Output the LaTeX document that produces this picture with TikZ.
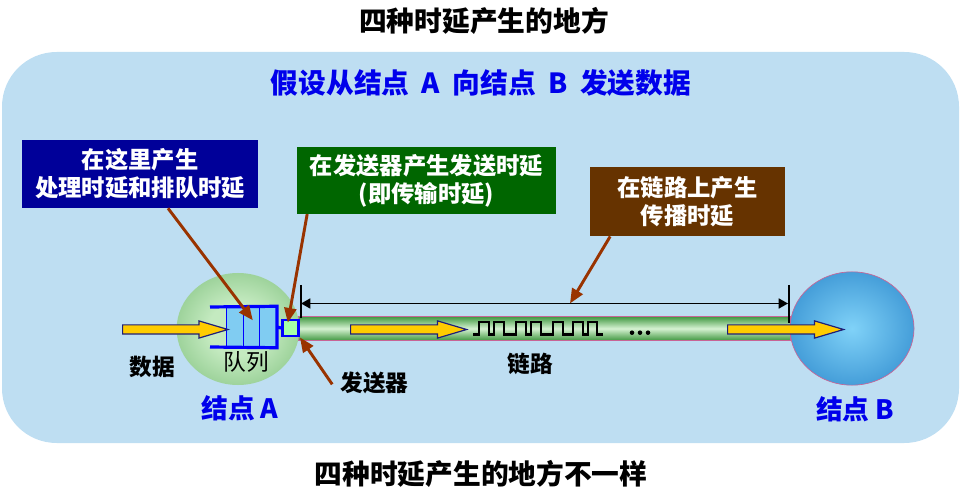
\documentclass[tikz,border=0pt]{standalone}
\usepackage{fontspec}
\setmainfont{Noto Sans CJK SC}
\usetikzlibrary{arrows.meta,positioning,shapes.geometric,shapes.arrows}

\definecolor{bgblue}{RGB}{190,222,242}
\definecolor{procblue}{RGB}{0,0,153}
\definecolor{sendgreen}{RGB}{0,102,0}
\definecolor{propbrown}{RGB}{102,51,0}
\definecolor{ptrbrown}{RGB}{153,51,0}
\definecolor{titleblue}{RGB}{0,0,235}
\definecolor{qblue}{RGB}{0,0,255}
\definecolor{qfill}{RGB}{128,204,242}
\definecolor{txfill}{RGB}{166,255,166}
\definecolor{arrowyellow}{RGB}{255,204,0}
\definecolor{arrowedge}{RGB}{31,31,120}
\definecolor{tubedark}{RGB}{70,155,70}
\definecolor{tubelight}{RGB}{214,242,210}
\definecolor{tubeedge}{RGB}{200,100,150}
\definecolor{nodeAin}{RGB}{196,234,192}
\definecolor{nodeAout}{RGB}{84,166,84}
\definecolor{nodeBin}{RGB}{128,210,248}
\definecolor{nodeBout}{RGB}{10,106,186}

\pgfdeclareradialshading{nodeAshade}{\pgfpoint{0bp}{0bp}}{color(0bp)=(nodeAin); color(12bp)=(nodeAin); color(50bp)=(nodeAout)}
\pgfdeclareradialshading{nodeBshade}{\pgfpoint{0bp}{0bp}}{color(0bp)=(nodeBin); color(50bp)=(nodeBout)}

\newcommand{\bigfont}{\bfseries\fontsize{20.8pt}{24pt}\selectfont}
\newcommand{\boxfont}{\bfseries\fontsize{17.5pt}{21pt}\selectfont}
\newcommand{\lblfont}{\bfseries\fontsize{17pt}{20pt}\selectfont}

\begin{document}
\begin{tikzpicture}[
x=0.75pt, y=-0.75pt,
box/.style={rectangle, inner sep=0pt, align=center, text=white, font=\boxfont},
ptr/.style={-{Triangle[length=11pt,width=9pt]}, line width=2.2pt, draw=ptrbrown},
yarrow/.style={single arrow, draw=arrowedge, fill=arrowyellow, line width=0.9pt, minimum width=12pt,
  single arrow head extend=3pt, single arrow tip angle=33, single arrow head indent=0pt,
  inner xsep=0pt, inner ysep=3pt, anchor=tail},
qcell/.style={rectangle, draw=qblue, fill=qfill, line width=1.1pt, minimum width=12.4pt, minimum height=30pt, inner sep=0pt},
qline/.style={draw=qblue, line width=2.4pt},
lbl/.style={inner sep=1pt, font=\lblfont},
nodelbl/.style={inner sep=1pt, text=titleblue, font=\bfseries\fontsize{20pt}{24pt}\selectfont},
dimline/.style={{Triangle[length=7pt,width=7.5pt]}-{Triangle[length=7pt,width=7.5pt]}, line width=1.2pt},
tick/.style={line width=1.6pt},
wave/.style={line width=2pt, line join=miter}
]
\useasboundingbox (0,0) rectangle (962,498);

% background panel
\fill[bgblue, rounded corners=41pt] (2,52) rectangle (959,443);

\node[font=\bigfont] (title) at (484,21) {四种时延产生的地方};
\node[font=\bigfont, text=titleblue] (sub) at (481,83) {假设从结点\hspace{.45em}A\hspace{.45em}向结点\hspace{.45em}B\hspace{.45em}发送数据};
\node[font=\bigfont] (bottom) at (481,474) {四种时延产生的地方不一样};

% link
\node[rectangle, draw=tubeedge, line width=0.7pt, top color=tubedark, bottom color=tubedark, middle color=tubelight,
  minimum width=369pt, minimum height=17.3pt, inner sep=0pt] (link) at (544,328.5) {};

% the two nodes
\node[ellipse, shading=nodeAshade, minimum width=92pt, minimum height=84pt, inner sep=0pt] (nodeA) at (238,329) {};
\node[ellipse, shading=nodeBshade, draw=tubeedge, line width=0.5pt, minimum width=93pt, minimum height=85pt, inner sep=0pt] (nodeB) at (852,328.5) {};

% queue and transmitter
\node[qcell] (q1) at (235,327) {};
\node[qcell] (q2) at (251.5,327) {};
\node[qcell] (q3) at (268,327) {};
\coordinate (qtl) at (210,307);
\coordinate (qbl) at (210,347);
\draw[qline] (qtl) -- (q3.north east) -- (q3.south east) -- (qbl);
\node[rectangle, draw=qblue, fill=txfill, line width=2.2pt, minimum size=12pt, inner sep=0pt] (tx) at (290.5,328) {};
\draw[qline] (q3.east) -- (tx.west);

% yellow arrows
\node[yarrow, minimum height=79pt] (dataarrow) at (122,329.5) {};
\node[yarrow, minimum height=87pt] (linkarrow) at (350,329.5) {};
\node[yarrow, minimum height=87pt] (barrow) at (727,329.5) {};

% bits on the link
\draw[wave] (473,334.5) \foreach \a/\b in {479/489, 494/504, 516/526, 531/541, 553/563, 573/583, 588/597} { -- (\a,334.5) -- (\a,322) -- (\b,322) -- (\b,334.5) } -- (603,334.5);
\foreach \x in {632,640,648} \fill (\x,332.7) circle (1.7pt);

% propagation span
\coordinate (dimL) at (301,303.5);
\coordinate (dimR) at (788,303.5);
\coordinate (dimmid) at (570,303.5);
\draw[tick] (301,285) -- (301,318);
\draw[tick] (789,285) -- (789,323);
\draw[dimline] (dimL) -- (dimR);

% callouts
\node[box, fill=procblue, minimum width=177pt, minimum height=51pt] (procbox) at (140,174) {在这里产生\\处理时延和排队时延};
\node[box, fill=sendgreen, minimum width=194pt, minimum height=50pt] (sendbox) at (426.5,180.5) {在发送器产生发送时延\\(即传输时延)};
\node[box, fill=propbrown, minimum width=146pt, minimum height=52pt] (propbox) at (687.5,201.5) {在链路上产生\\传播时延};

% labels
\node[lbl] (datalbl) at (152,367) {数据};
\node[inner sep=1pt, font=\fontsize{17pt}{20pt}\selectfont] (queuelbl) at (246.5,362) {队列};
\node[lbl] (txlbl) at (374.5,383) {发送器};
\node[lbl] (linklbl) at (530.5,364) {链路};
\node[nodelbl] (nodeAlbl) at (240,408) {结点 A};
\node[nodelbl] (nodeBlbl) at (855,409) {结点 B};

\draw[ptr] ([xshift=21pt]procbox.south) -- ([xshift=1pt,yshift=5pt]q2.center);
\draw[ptr] ([xshift=-89.5pt]sendbox.south) -- ([xshift=-2pt,yshift=4pt]tx.center);
\draw[ptr] ([xshift=-5pt,yshift=-1pt]txlbl.west) -- (tx.south east);
\draw[ptr] ([xshift=-58pt]propbox.south) -- (dimmid);

\end{tikzpicture}
\end{document}
